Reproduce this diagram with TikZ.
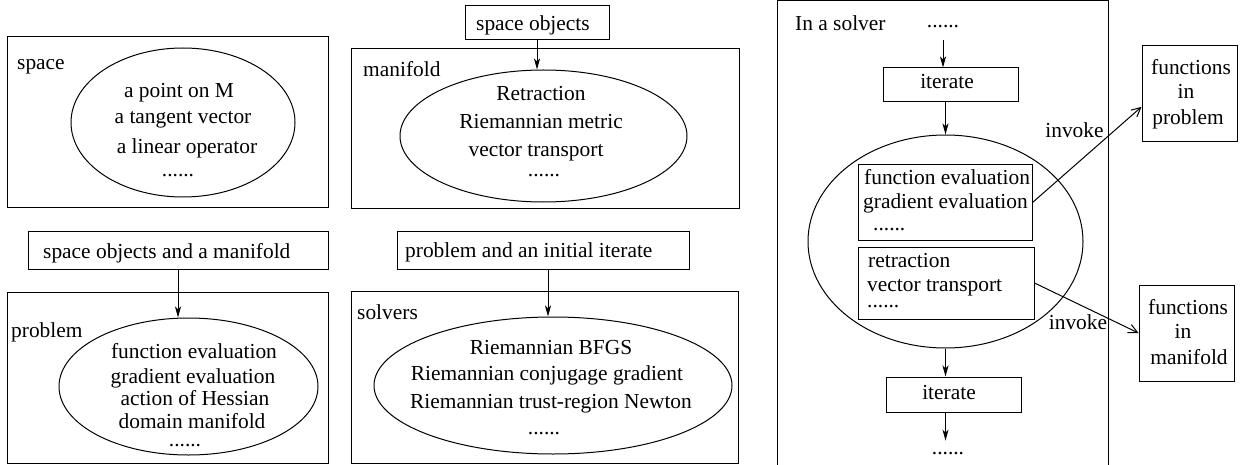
\documentclass[tikz,border=0pt]{standalone}
\usepackage{fontspec}
\setmainfont{Liberation Serif}
\usetikzlibrary{shapes.geometric,arrows.meta,fit}
\begin{document}
\begin{tikzpicture}[x=1pt,y=-1pt,
  every node/.style={font=\fontsize{21.4}{25}\selectfont},
  box/.style={draw, rectangle, inner sep=0pt, line width=1pt},
  ell/.style={draw, ellipse, inner sep=0pt, line width=1pt},
  t/.style={inner sep=0pt, anchor=base},
  tl/.style={inner sep=0pt, anchor=base west},
  arr/.style={line width=1pt, -{Stealth[length=11pt,width=6pt,inset=3pt]}},
  inv/.style={line width=1pt, -{Straight Barb[length=9pt,width=9pt]}}]
\useasboundingbox (0,0) rectangle (1244,465);

% ---------- left panels ----------
\node[box, fit={(7,37) (328,207)}] (spaceB) {};
\node[tl] (spaceL) at (17,70) {space};
\node[ell, minimum width=224pt, minimum height=149pt] (spaceE) at (183,122.5) {};
\node[t] (sp1) at (179,98) {a point on M};
\node[t] (sp2) at (183,124) {a tangent vector};
\node[t] (sp3) at (187,154) {a linear operator};
\node[t] (sp4) at (178,177) {......};

\node[box, fit={(28,231) (328,269)}] (samB) {};
\node[tl] (samT) at (43,258) {space objects and a manifold};

\node[box, fit={(7,292) (328,463)}] (probB) {};
\node[tl] (probL) at (11,337) {problem};
\node[ell, minimum width=259pt, minimum height=137pt] (probE) at (188.5,386.5) {};
\node[t] (pr1) at (194,358) {function evaluation};
\node[t] (pr2) at (193,383) {gradient evaluation};
\node[t] (pr3) at (195,405) {action of Hessian};
\node[t] (pr4) at (192,428) {domain manifold};
\node[t] (pr5) at (185,446) {......};

% ---------- middle panels ----------
\node[box, fit={(465,6) (609,40)}] (soB) {};
\node[tl] (soT) at (476,31) {space objects};

\node[box, fit={(351,49) (739,208)}] (manB) {};
\node[tl] (manL) at (363,77) {manifold};
\node[ell, minimum width=287pt, minimum height=132pt] (manE) at (543.5,136) {};
\node[t] (ma1) at (541,101) {Retraction};
\node[t] (ma2) at (541,129) {Riemannian metric};
\node[t] (ma3) at (536,157) {vector transport};
\node[t] (ma4) at (544,177) {......};

\node[box, fit={(397,231) (689,269)}] (paiB) {};
\node[tl] (paiT) at (405,257) {problem and an initial iterate};

\node[box, fit={(351,291) (738,463)}] (solB) {};
\node[tl] (solL) at (357,319) {solvers};
\node[ell, minimum width=358pt, minimum height=137pt] (solE) at (553,385.5) {};
\node[t] (so1) at (551,354) {Riemannian BFGS};
\node[t] (so2) at (547,380) {Riemannian conjugage gradient};
\node[t] (so3) at (551,408) {Riemannian trust-region Newton};
\node[t] (so4) at (544,434) {......};

\draw[arr] (soB.south) -- (soB.south |- manE.north);
\draw[arr] (samB.south) -- (samB.south |- probE.north);
\draw[arr] ([xshift=5pt]paiB.south) -- ([xshift=5pt]paiB.south |- solE.north);

% ---------- right: in a solver ----------
\node[box, fit={(777,0.5) (1108,472)}] (frame) {};
\node[tl] (frameL) at (795,31) {In a solver};
\node[t] (tdots) at (943,27.5) {......};
\node[box, fit={(883,68) (1018,102)}] (it1) {};
\node[t] (it1T) at (947,89) {iterate};
\node[ell, minimum width=275pt, minimum height=213pt] (bigE) at (945.5,241.5) {};
\node[box, fit={(858,165) (1032,240)}] (ib1) {};
\node[tl] (ib1a) at (864,185) {function evaluation};
\node[tl] (ib1b) at (863,208) {gradient evaluation};
\node[tl] (ib1c) at (873,230) {......};
\node[box, fit={(858,247) (1034,319)}] (ib2) {};
\node[tl] (ib2a) at (868,267) {retraction};
\node[tl] (ib2b) at (867,291) {vector transport};
\node[tl] (ib2c) at (867,307) {......};
\node[box, fit={(886,377) (1021,412)}] (it2) {};
\node[t] (it2T) at (949,399) {iterate};
\node[t] (bdots) at (948,454) {......};

\draw[arr, shorten <=12pt] (tdots.south) -- (tdots.south |- it1.north);
\draw[arr] (bigE.north |- it1.south) -- (bigE.north);
\draw[arr] (bigE.south) -- (bigE.south |- it2.north);
\draw[arr, shorten >=11pt] (bigE.south |- it2.south) -- (bigE.south |- bdots.north);

\node[box, fit={(1142,46) (1237,142)}] (fpB) {};
\node[t] (fp1) at (1191,75) {functions};
\node[t] (fp2) at (1186,99) {in};
\node[t] (fp3) at (1188,125) {problem};
\node[box, fit={(1139,285) (1234,381)}] (fmB) {};
\node[t] (fm1) at (1188,314) {functions};
\node[t] (fm2) at (1183,338) {in};
\node[t] (fm3) at (1189,364) {manifold};

\draw[inv] (ib1.east) -- (fpB.195);
\draw[inv] (ib2.east) -- (fmB.west);
\node[t] (inv1) at (1074.5,138) {invoke};
\node[t] (inv2) at (1078,329) {invoke};
\end{tikzpicture}
\end{document}
